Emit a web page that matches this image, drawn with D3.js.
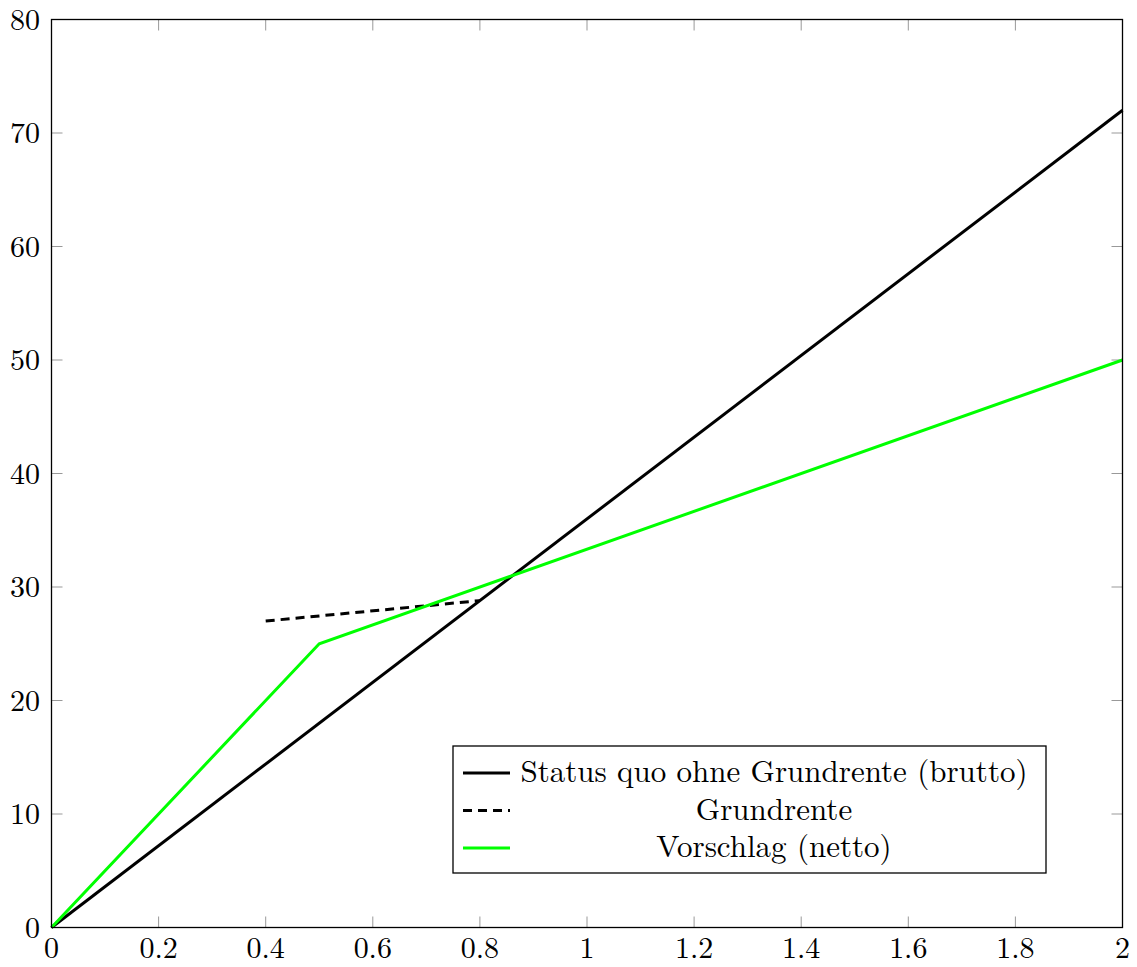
<!DOCTYPE html>
<html>
<head>
<meta charset="utf-8">
<script src="https://cdn.jsdelivr.net/npm/d3@7"></script>
<style>
  body { margin: 0; background: #fff; }
  text { font-family: "Latin Modern Roman", "DejaVu Serif", serif; }
</style>
</head>
<body>
<div id="plot"></div>
<script>
// Data
var statusX = [0, 2];
var statusY = [0, 72];
var grundX = [0.4, 0.8];
var grundY = [27, 28.8];
var vorschlagX = [0, 0.5, 2];
var vorschlagY = [0, 25, 50];
var xTicks = [0, 0.2, 0.4, 0.6, 0.8, 1, 1.2, 1.4, 1.6, 1.8, 2];
var yTicks = [0, 10, 20, 30, 40, 50, 60, 70, 80];
var legendLabels = ["Status quo ohne Grundrente (brutto)", "Grundrente", "Vorschlag (netto)"];

var margin = {top: 19.5, right: 14.5, bottom: 39.5, left: 51.5},
	width = 1137 - margin.left - margin.right,
	height = 967 - margin.top - margin.bottom;

var svg = d3.select("#plot")
	.append("svg")
	.attr("width", 1137)
	.attr("height", 967)
	.append("g")
	.attr("transform", "translate(" + margin.left + "," + margin.top + ")");

var x = d3.scaleLinear().domain([0, 2]).range([0, width]);
var y = d3.scaleLinear().domain([0, 80]).range([height, 0]);

// ticks on all four sides, pointing inward
var tickLen = 11;
var tickG = svg.append("g").attr("stroke", "#999").attr("stroke-width", 1);
xTicks.forEach(function(t){
	tickG.append("line").attr("x1", x(t)).attr("x2", x(t)).attr("y1", height).attr("y2", height - tickLen);
	tickG.append("line").attr("x1", x(t)).attr("x2", x(t)).attr("y1", 0).attr("y2", tickLen);
});
yTicks.forEach(function(t){
	tickG.append("line").attr("x1", 0).attr("x2", tickLen).attr("y1", y(t)).attr("y2", y(t));
	tickG.append("line").attr("x1", width).attr("x2", width - tickLen).attr("y1", y(t)).attr("y2", y(t));
});

// tick labels
svg.append("g").selectAll("text")
	.data(xTicks).enter().append("text")
	.attr("x", function(d){ return x(d); })
	.attr("y", height + 30.5)
	.attr("text-anchor", "middle")
	.style("font-size", "30px")
	.text(function(d){ return d; });
svg.append("g").selectAll("text")
	.data(yTicks).enter().append("text")
	.attr("x", -11.5)
	.attr("y", function(d){ return y(d) + 10; })
	.attr("text-anchor", "end")
	.style("font-size", "30px")
	.text(function(d){ return d; });

// lines
var line = d3.line().x(function(d){ return x(d[0]); }).y(function(d){ return y(d[1]); });
function pts(xs, ys){ return xs.map(function(v, i){ return [v, ys[i]]; }); }

svg.append("path").datum(pts(statusX, statusY))
	.attr("d", line).attr("fill", "none").attr("stroke", "#000").attr("stroke-width", 3);
svg.append("path").datum(pts(grundX, grundY))
	.attr("d", line).attr("fill", "none").attr("stroke", "#000").attr("stroke-width", 3)
	.attr("stroke-dasharray", "9,6");
svg.append("path").datum(pts(vorschlagX, vorschlagY))
	.attr("d", line).attr("fill", "none").attr("stroke", "#00ff00").attr("stroke-width", 3);

// frame
svg.append("rect").attr("width", width).attr("height", height)
	.attr("fill", "none").attr("stroke", "#000").attr("stroke-width", 1.3);

// legend
var lg = svg.append("g").attr("transform", "translate(" + (453 - margin.left) + "," + (746 - margin.top) + ")");
lg.append("rect").attr("width", 593).attr("height", 127)
	.attr("fill", "#fff").attr("stroke", "#000").attr("stroke-width", 1.3);
var styles = [{c: "#000", d: null}, {c: "#000", d: "9,6"}, {c: "#00ff00", d: null}];
legendLabels.forEach(function(lbl, i){
	var cy = 27 + i * 37.5;
	lg.append("line").attr("x1", 10).attr("x2", 57).attr("y1", cy).attr("y2", cy)
		.attr("stroke", styles[i].c).attr("stroke-width", 3)
		.attr("stroke-dasharray", styles[i].d);
	lg.append("text").attr("x", 321).attr("y", cy + 9)
		.attr("text-anchor", "middle")
		.style("font-size", "31px")
		.text(lbl);
});
</script>
</body>
</html>
